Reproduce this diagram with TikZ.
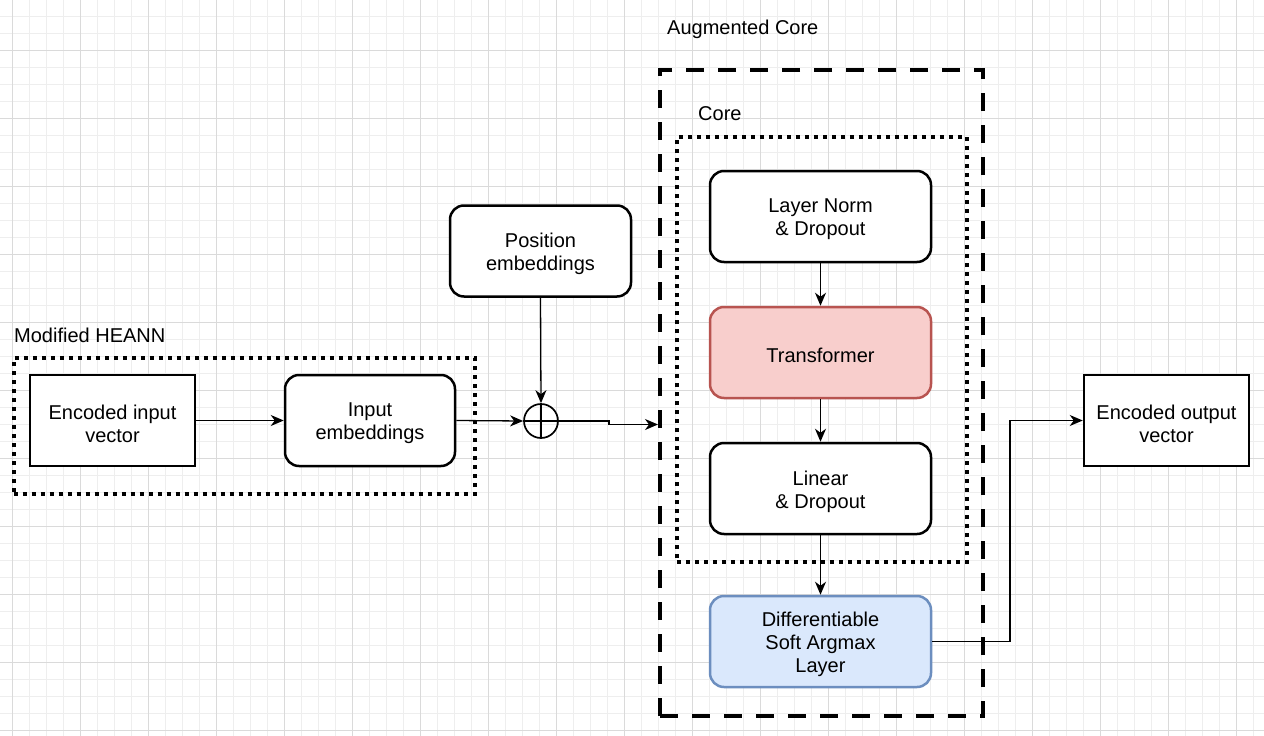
\documentclass[tikz,border=0pt]{standalone}
\usepackage{fontspec}
\setmainfont{Liberation Sans}
\usetikzlibrary{arrows.meta,calc}
\definecolor{gridminor}{HTML}{EEEEEE}
\definecolor{gridmajor}{HTML}{DADADA}
\definecolor{pinkfill}{HTML}{F8CECC}
\definecolor{pinkline}{HTML}{B85450}
\definecolor{bluefill}{HTML}{DAE8FC}
\definecolor{blueline}{HTML}{6C8EBF}
\tikzset{
  txt/.style={font=\fontsize{20}{23}\selectfont, align=center, inner sep=0pt},
  sqbox/.style={draw, line width=2.5pt, fill=white, minimum width=165pt, minimum height=91pt, inner sep=0pt},
  rbox/.style={sqbox, rounded corners=14pt},
  vbox/.style={rbox, minimum width=221pt},
  boxtext/.style={label={[txt,yshift=-3pt]center:#1}},
  conn/.style={line width=1.3pt, -{Stealth[length=13pt,width=11pt,inset=4pt]}},
  dashbox/.style={draw, line width=4pt, dash pattern=on 18pt off 14pt, inner sep=0pt},
  dotbox/.style={draw, line width=4pt, dash pattern=on 4pt off 5pt, inner sep=0pt},
  lbl/.style={font=\fontsize{20}{23}\selectfont, anchor=west, inner sep=0pt}
}
\begin{document}
\begin{tikzpicture}[x=1pt,y=-1pt]
\useasboundingbox (0,0) rectangle (1264,736);
\fill[white] (0,0) rectangle (1264,736);
% grid
\foreach \i in {0,...,74} {
  \pgfmathsetmacro{\gx}{12.3+17*\i}
  \draw[gridminor, line width=1pt] (\gx,0) -- (\gx,736);
}
\foreach \i in {0,...,44} {
  \pgfmathsetmacro{\gy}{-0.3+17*\i}
  \draw[gridminor, line width=1pt] (0,\gy) -- (1264,\gy);
}
\foreach \i in {0,...,18} {
  \pgfmathsetmacro{\gx}{12.3+68*\i}
  \draw[gridmajor, line width=1.2pt] (\gx,0) -- (\gx,736);
}
\foreach \i in {0,...,11} {
  \pgfmathsetmacro{\gy}{-17.3+68*\i}
  \draw[gridmajor, line width=1.2pt] (0,\gy) -- (1264,\gy);
}

% containers
\node[dashbox, minimum width=323pt, minimum height=646pt] (aug) at (821.5,393) {};
\node[dotbox, minimum width=290pt, minimum height=425pt] (core) at (822,349.5) {};
\node[dotbox, minimum width=461pt, minimum height=136pt] (heann) at (244,426) {};
\node[lbl] (laug) at (667,29) {Augmented Core};
\node[lbl] (lcore) at (698,114) {Core};
\node[lbl] (lheann) at (14,335) {Modified HEANN};

% nodes
\node[sqbox, boxtext={Encoded input\\vector}] (ein) at (112.5,420.5) {};
\node[rbox, minimum width=170pt, boxtext={Input\\embeddings}] (ie) at (370,420.5) {};
\node[rbox, minimum width=181pt, boxtext={Position\\embeddings}] (pe) at (540.5,251) {};
\node[circle, draw, line width=1.7pt, minimum size=34pt, inner sep=0pt] (plus) at (541,421) {};
\draw[line width=1.7pt] (plus.north) -- (plus.south) (plus.west) -- (plus.east);
\node[vbox, boxtext={Layer Norm\\\& Dropout}] (ln) at (820.5,216.5) {};
\node[vbox, fill=pinkfill, draw=pinkline, boxtext={Transformer}] (tr) at (820.5,352.5) {};
\node[vbox, boxtext={Linear\\\& Dropout}] (lin) at (820.5,488.5) {};
\node[vbox, fill=bluefill, draw=blueline, boxtext={Differentiable\\Soft Argmax\\Layer}] (dsal) at (820.5,641.5) {};
\node[sqbox, boxtext={Encoded output\\vector}] (eout) at (1166.5,420.5) {};

% connectors
\coordinate (j1) at (609,421);
\coordinate (j2) at (609,424.5);
\coordinate (k) at (1010,0);
\draw[conn] (ein.east) -- (ie.west);
\draw[conn] (ie.east) -- (plus.west);
\draw[conn] (pe.south) -- (plus.north);
\draw[conn] (plus.east) -- (j1) -- (j2) -- (j2 -| aug.west);
\draw[conn] (ln.south) -- (tr.north);
\draw[conn] (tr.south) -- (lin.north);
\draw[conn] (lin.south) -- (dsal.north);
\draw[conn] (dsal.east) -- (dsal.east -| k) |- (eout.west);
\end{tikzpicture}
\end{document}
